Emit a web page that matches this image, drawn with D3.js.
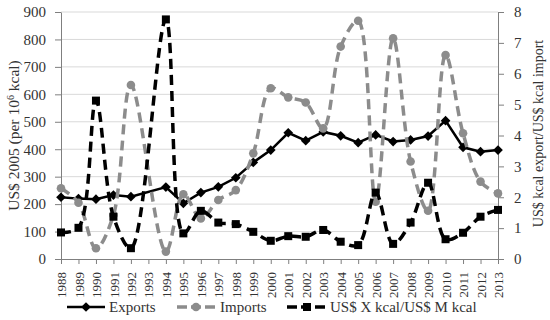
<!DOCTYPE html>
<html>
<head>
<meta charset="utf-8">
<script src="https://cdn.jsdelivr.net/npm/d3@7"></script>
<style>
  body { margin: 0; background: #fff; }
  text { font-family: "Liberation Serif", "DejaVu Serif", serif; fill: #333; }
</style>
</head>
<body>
<div id="vis"></div>
<script>
// 1993 has no data in any series; the lines jump over it
const years = d3.range(1988, 2014).map(String);
const exportsVal = [225, 220, 218, 233, 227, null, 262, 203, 242, 263, 296, 352, 397,
                    460, 431, 463, 449, 424, 452, 428, 434, 448, 504, 407, 391, 397];
const importsVal = [258, 205, 39, 160, 634, null, 27, 236, 148, 215, 251, 385, 622,
                    589, 570, 476, 774, 868, 209, 804, 355, 176, 743, 458, 282, 239];
const ratioVal = [0.86, 1.01, 5.13, 1.37, 0.35, null, 7.76, 0.83, 1.56, 1.18, 1.13, 0.88, 0.59,
                  0.74, 0.72, 0.94, 0.56, 0.45, 2.15, 0.49, 1.18, 2.47, 0.64, 0.85, 1.37, 1.59];
const leftTicks = d3.range(0, 1000, 100);
const rightTicks = d3.range(0, 9, 1);

const W = 550, H = 320;
const L = 61, R = 498, T = 12, B = 259;
const gray = "#8c8c8c";

const svg = d3.select("#vis").append("svg")
  .attr("width", W)
  .attr("height", H);

const x = d3.scalePoint().domain(years).range([L, R]);
const yL = d3.scaleLinear().domain([0, 900]).range([B, T]);
const yR = d3.scaleLinear().domain([0, 8]).range([B, T]);

// gridlines
svg.append("g").selectAll("line")
  .data(leftTicks.slice(1))
  .join("line")
  .attr("x1", L).attr("x2", R)
  .attr("y1", d => yL(d)).attr("y2", d => yL(d))
  .attr("stroke", "#d9d9d9").attr("stroke-width", 1);

// axes
const axL = svg.append("g").attr("transform", `translate(${L},0)`)
  .call(d3.axisLeft(yL).tickValues(leftTicks).tickSize(6).tickPadding(9).tickSizeOuter(0));
const axR = svg.append("g").attr("transform", `translate(${R},0)`)
  .call(d3.axisRight(yR).tickValues(rightTicks).tickSize(6).tickPadding(10).tickSizeOuter(0));
const axB = svg.append("g").attr("transform", `translate(0,${B})`)
  .call(d3.axisBottom(x).tickSize(5).tickSizeOuter(0));

[axL, axR, axB].forEach(a => {
  a.select(".domain").attr("stroke", "#7f7f7f");
  a.selectAll(".tick line").attr("stroke", "#7f7f7f");
  a.selectAll("text").style("font-size", "15px").attr("fill", "#262626");
});
axB.selectAll("text")
  .style("font-size", "13px")
  .attr("text-anchor", "end")
  .attr("transform", "rotate(-90)")
  .attr("x", -13)
  .attr("y", 0)
  .attr("dy", "0.35em");

// axis titles
svg.append("text")
  .attr("transform", `translate(14,${(T + B) / 2}) rotate(-90)`)
  .attr("text-anchor", "middle")
  .attr("dy", "0.35em")
  .style("font-size", "15.5px")
  .attr("fill", "#262626")
  .html('US$ 2005 (per 10<tspan dy="-5" style="font-size:10px">6</tspan><tspan dy="5"> kcal)</tspan>');

svg.append("text")
  .attr("transform", `translate(538,${(T + B) / 2 - 2}) rotate(-90)`)
  .attr("text-anchor", "middle")
  .attr("dy", "0.35em")
  .style("font-size", "14px")
  .attr("fill", "#262626")
  .text("US$ kcal export/US$ kcal import");

function pts(vals) {
  return years.map((yr, i) => ({ yr, v: vals[i] })).filter(d => d.v !== null);
}

const exp = pts(exportsVal), imp = pts(importsVal), rat = pts(ratioVal);
const diamond = d3.symbol().type(d3.symbolDiamond2).size(60);
const smooth = d3.curveCatmullRom.alpha(0.5);

// exports
svg.append("path").datum(exp)
  .attr("fill", "none").attr("stroke", "#000").attr("stroke-width", 2.5)
  .attr("d", d3.line().x(d => x(d.yr)).y(d => yL(d.v)));
svg.append("g").selectAll("path").data(exp).join("path")
  .attr("d", diamond)
  .attr("transform", d => `translate(${x(d.yr)},${yL(d.v)})`)
  .attr("fill", "#000");

// imports
svg.append("path").datum(imp)
  .attr("fill", "none").attr("stroke", gray).attr("stroke-width", 3.5)
  .attr("stroke-dasharray", "10,6")
  .attr("d", d3.line().curve(smooth).x(d => x(d.yr)).y(d => yL(d.v)));
svg.append("g").selectAll("circle").data(imp).join("circle")
  .attr("cx", d => x(d.yr)).attr("cy", d => yL(d.v)).attr("r", 4.3)
  .attr("fill", gray);

// ratio
svg.append("path").datum(rat)
  .attr("fill", "none").attr("stroke", "#000").attr("stroke-width", 3.5)
  .attr("stroke-dasharray", "10,6")
  .attr("d", d3.line().curve(smooth).x(d => x(d.yr)).y(d => yR(d.v)));
svg.append("g").selectAll("rect").data(rat).join("rect")
  .attr("x", d => x(d.yr) - 4).attr("y", d => yR(d.v) - 4)
  .attr("width", 8).attr("height", 8)
  .attr("fill", "#000");

// legend
const ly = 307;
const leg = svg.append("g");
leg.append("line").attr("x1", 67).attr("x2", 105).attr("y1", ly).attr("y2", ly)
  .attr("stroke", "#000").attr("stroke-width", 2.5);
leg.append("path").attr("d", diamond).attr("transform", `translate(86,${ly})`).attr("fill", "#000");
leg.append("text").attr("x", 109).attr("y", ly).attr("dy", "0.35em").style("font-size", "15px").attr("fill", "#262626").text("Exports");

leg.append("line").attr("x1", 177).attr("x2", 215).attr("y1", ly).attr("y2", ly)
  .attr("stroke", gray).attr("stroke-width", 3.5).attr("stroke-dasharray", "10,4");
leg.append("circle").attr("cx", 196).attr("cy", ly).attr("r", 4.3).attr("fill", gray);
leg.append("text").attr("x", 220).attr("y", ly).attr("dy", "0.35em").style("font-size", "15px").attr("fill", "#262626").text("Imports");

leg.append("line").attr("x1", 287).attr("x2", 327).attr("y1", ly).attr("y2", ly)
  .attr("stroke", "#000").attr("stroke-width", 3.5).attr("stroke-dasharray", "10,4");
leg.append("rect").attr("x", 303).attr("y", ly - 4).attr("width", 8).attr("height", 8).attr("fill", "#000");
leg.append("text").attr("x", 330).attr("y", ly).attr("dy", "0.35em").style("font-size", "15px").attr("fill", "#262626").text("US$ X kcal/US$ M kcal");
</script>
</body>
</html>
